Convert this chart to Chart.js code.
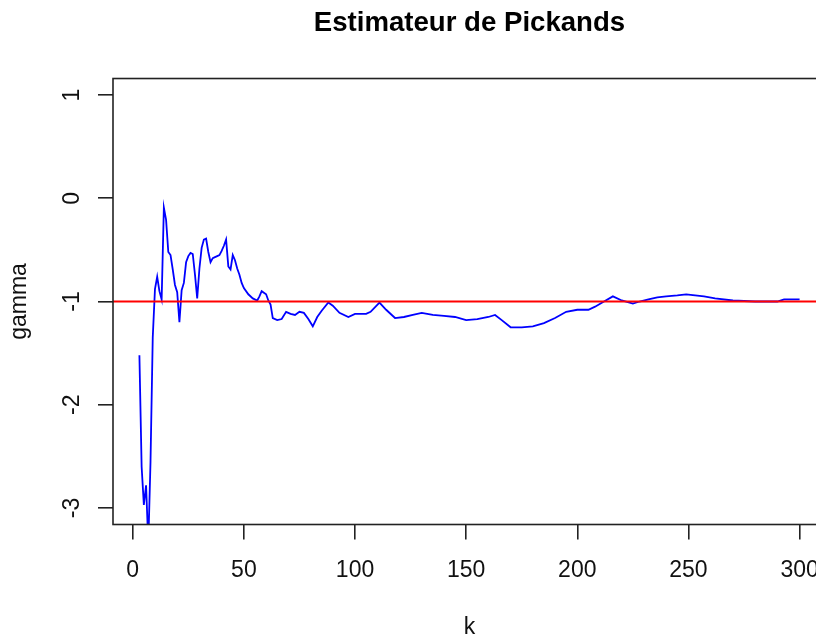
<!DOCTYPE html>
<html>
<head>
<meta charset="utf-8">
<script src="https://cdn.jsdelivr.net/npm/chart.js@4/dist/chart.umd.min.js"></script>
<style>
  html, body { margin: 0; padding: 0; background: #fff; overflow: hidden; }
  #wrap { width: 840px; height: 650px; }
</style>
</head>
<body>
<div id="wrap"><canvas id="pickands" width="840" height="650"></canvas></div>
<script>
// k (nombre d'extrêmes) et estimation de gamma
const kValues = [3, 4, 5, 6, 7, 8, 9, 10, 11, 12, 13, 14, 15, 16, 17, 18, 19, 20, 21, 22,
    23, 24, 25, 26, 27, 28, 29, 30, 31, 32, 33, 34, 35, 36, 37, 38, 39, 40, 41, 42,
    43, 44, 45, 46, 47, 48, 49, 50, 52, 54, 56, 57, 58, 60, 61, 62, 63, 65, 67, 69,
    71, 73, 75, 77, 79, 81, 83, 85, 88, 90, 93, 97, 100, 105, 107, 111, 114, 118, 122, 126,
    130, 135, 140, 145, 150, 155, 160, 163, 166, 170, 175, 180, 185, 190, 195, 200, 205, 208, 212, 216,
    220, 225, 228, 232, 236, 240, 245, 249, 253, 257, 262, 270, 280, 290, 293, 300];
const gammaValues = [-1.52, -2.6, -2.97, -2.78, -3.35, -2.55, -1.35, -0.88, -0.76, -0.9, -0.98, -0.09, -0.21, -0.52, -0.55, -0.69, -0.84, -0.91, -1.2, -0.89,
    -0.82, -0.62, -0.56, -0.53, -0.54, -0.74, -0.97, -0.68, -0.48, -0.40, -0.39, -0.52, -0.62, -0.58, -0.57, -0.56, -0.55, -0.51, -0.46, -0.40,
    -0.66, -0.69, -0.55, -0.60, -0.68, -0.74, -0.82, -0.87, -0.93, -0.97, -0.99, -0.95, -0.90, -0.93, -0.99, -1.03, -1.16, -1.18, -1.17, -1.10,
    -1.12, -1.13, -1.10, -1.11, -1.17, -1.24, -1.15, -1.09, -1.01, -1.04, -1.11, -1.15, -1.12, -1.12, -1.10, -1.01, -1.08, -1.16, -1.15, -1.13,
    -1.11, -1.13, -1.14, -1.15, -1.18, -1.17, -1.15, -1.13, -1.18, -1.25, -1.25, -1.24, -1.21, -1.16, -1.10, -1.08, -1.08, -1.05, -1.00, -0.95,
    -0.99, -1.02, -1.00, -0.98, -0.96, -0.95, -0.94, -0.93, -0.94, -0.95, -0.97, -0.99, -1.00, -1.00, -0.98, -0.98];
const refGamma = -1;
const xTicks = [0, 50, 100, 150, 200, 250, 300];
const yTicks = [-3, -2, -1, 0, 1];

// limites comme R (ylim = c(-3, 1), étendues de 4 %)
const xMin = 3 - 0.04 * 297, xMax = 300 + 0.04 * 297;
const yMin = -3 - 0.04 * 4, yMax = 1 + 0.04 * 4;

const FONT = '"Liberation Sans", Arial, sans-serif';
const axisColor = '#222';

const boxPlugin = {
    id: 'rbox',
    afterDatasetsDraw(chart) {
        const { ctx, chartArea: a } = chart;
        ctx.save();
        ctx.strokeStyle = axisColor;
        ctx.lineWidth = 1.6;
        ctx.strokeRect(a.left, a.top, a.right - a.left, a.bottom - a.top);
        ctx.restore();
    }
};

const points = kValues.map((k, i) => ({ x: k, y: gammaValues[i] }));

new Chart(document.getElementById('pickands').getContext('2d'), {
    type: 'line',
    data: {
        datasets: [{
            data: [{ x: xMin, y: refGamma }, { x: xMax, y: refGamma }],
            borderColor: '#ff0000',
            borderWidth: 1.8,
            pointRadius: 0
        }, {
            data: points,
            borderColor: '#0000ff',
            borderWidth: 1.8,
            pointRadius: 0,
            tension: 0
        }]
    },
    options: {
        responsive: false,
        animation: false,
        events: [],
        layout: { padding: { left: 0, right: 14, top: 0, bottom: 0 } },
        plugins: {
            legend: { display: false },
            tooltip: { enabled: false },
            title: {
                display: true,
                text: 'Estimateur de Pickands',
                fullSize: false,
                color: '#000',
                font: { family: FONT, size: 27.6, weight: 'bold', lineHeight: 1.2 },
                padding: { top: 6.5, bottom: 38.9 }
            }
        },
        scales: {
            x: {
                type: 'linear',
                min: xMin,
                max: xMax,
                afterFit(scale) { scale.height = 125.5; },
                afterBuildTicks(scale) { scale.ticks = xTicks.map(v => ({ value: v })); },
                border: { display: false },
                grid: { drawOnChartArea: false, drawTicks: true, tickLength: 15, color: axisColor, lineWidth: 1.6 },
                ticks: {
                    color: '#111',
                    font: { family: FONT, size: 23 },
                    padding: 17,
                    maxRotation: 0,
                    autoSkip: false
                },
                title: {
                    display: true,
                    text: 'k',
                    color: '#111',
                    font: { family: FONT, size: 23, lineHeight: 1.2 },
                    padding: { top: 0, bottom: 9 }
                }
            },
            y: {
                type: 'linear',
                min: yMin,
                max: yMax,
                afterFit(scale) { scale.width = 113; },
                afterBuildTicks(scale) { scale.ticks = yTicks.map(v => ({ value: v })); },
                border: { display: false },
                grid: { drawOnChartArea: false, drawTicks: true, tickLength: 15, color: axisColor, lineWidth: 1.6 },
                ticks: {
                    color: '#111',
                    font: { family: FONT, size: 23 },
                    padding: 15,
                    minRotation: 90,
                    maxRotation: 90,
                    crossAlign: 'center',
                    autoSkip: false
                },
                title: {
                    display: true,
                    text: 'gamma',
                    color: '#111',
                    font: { family: FONT, size: 23, lineHeight: 1.2 },
                    padding: { top: 6, bottom: 0 }
                }
            }
        }
    },
    plugins: [boxPlugin]
});
</script>
</body>
</html>
